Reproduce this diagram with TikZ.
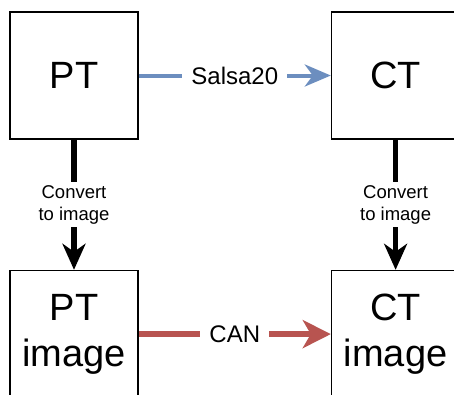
\documentclass[tikz,border=0pt]{standalone}
\usepackage{fontspec}
\setmainfont{Liberation Sans}
\usetikzlibrary{arrows.meta, positioning}

\definecolor{salsablue}{HTML}{6C8EBF}
\definecolor{canred}{HTML}{B85450}

\begin{document}
\begin{tikzpicture}[
    x=1pt, y=1pt,
    node distance=130pt and 192pt,
    box/.style={rectangle, draw, line width=1.6pt, minimum width=128pt, minimum height=127pt, inner sep=0pt, align=center, font=\fontsize{38}{46}\selectfont},
    lbl/.style={fill=white, inner xsep=9pt, inner ysep=2pt, font=\fontsize{24}{28}\selectfont},
    convlbl/.style={fill=white, inner xsep=2pt, inner ysep=3pt, align=center, font=\fontsize{18.5}{22}\selectfont},
    encarrow/.style={-{Stealth[length=26pt, width=22pt, inset=8pt]}, line width=4pt, draw=salsablue},
    canarrow/.style={-{Stealth[length=28pt, width=28pt, inset=8pt]}, line width=6pt, draw=canred},
    convarrow/.style={-{Stealth[length=26pt, width=23pt, inset=8pt]}, line width=5.5pt}
]

% Page size (boxes on the right and bottom are cut off)
\useasboundingbox (-74,75.5) rectangle ++(454,-394);

% Top: plaintext and ciphertext
\node[box] (pt) {PT};
\node[box, right=of pt] (ct) {CT};

% Bottom: images
\node[box, below=of pt] (ptimg) {PT\\image};
\node[box, below=of ct] (ctimg) {CT\\image};

% Arrows
\draw[encarrow] (pt) -- node[lbl] {Salsa20} (ct);
\draw[canarrow] (ptimg) -- node[lbl] {CAN} (ctimg);

\draw[convarrow] (pt) -- node[convlbl] {Convert\\to image} (ptimg);
\draw[convarrow] (ct) -- node[convlbl] {Convert\\to image} (ctimg);

\end{tikzpicture}
\end{document}
